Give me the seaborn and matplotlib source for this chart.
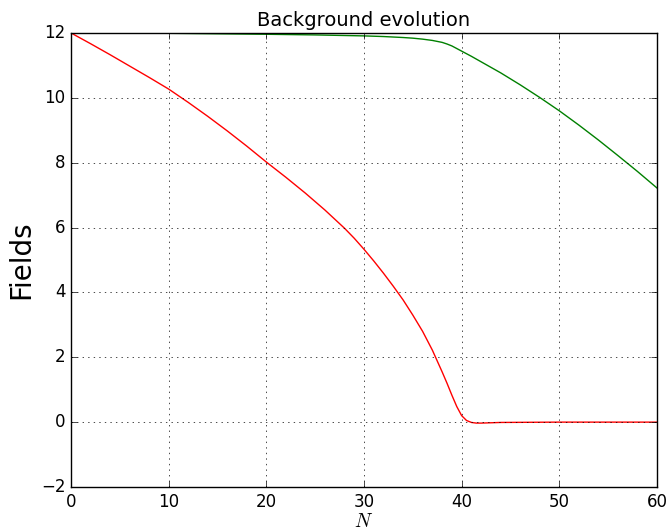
import numpy as np
import matplotlib
matplotlib.use("Agg")
import matplotlib.pyplot as plt
import pandas as pd
import seaborn as sns

plt.style.use('classic')

# values
n_red = [0, 2, 4, 6, 8, 10, 12, 14, 16, 18, 20, 22, 24, 26, 28, 29, 30, 31, 32, 33, 34, 35, 36, 37, 38, 38.5, 39, 39.5, 40, 40.5, 41, 41.5, 42, 43, 44, 50, 60]
phi_red = [12, 11.67, 11.33, 10.98, 10.63, 10.27, 9.86, 9.43, 8.98, 8.51, 8.02, 7.55, 7.06, 6.54, 5.98, 5.67, 5.33, 4.97, 4.59, 4.19, 3.77, 3.3, 2.8, 2.22, 1.55, 1.2, 0.83, 0.48, 0.2, 0.05, -0.01, -0.03, -0.03, -0.02, -0.01, 0.0, 0.0]

n_green = [0, 10, 20, 25, 30, 32, 34, 35, 36, 37, 37.5, 38, 38.5, 39, 39.5, 40, 41, 42, 44, 46, 48, 50, 52, 54, 56, 58, 60]
phi_green = [12, 11.99, 11.96, 11.94, 11.91, 11.89, 11.86, 11.84, 11.81, 11.77, 11.74, 11.71, 11.66, 11.6, 11.52, 11.44, 11.28, 11.11, 10.77, 10.4, 10.01, 9.6, 9.16, 8.7, 8.22, 7.73, 7.22]

df = pd.concat([
    pd.DataFrame({'N': n_red, 'value': phi_red, 'field': 'phi'}),
    pd.DataFrame({'N': n_green, 'value': phi_green, 'field': 'chi'}),
])

fig = plt.figure(figsize=(6.68, 5.31), dpi=100, facecolor='white')
ax = fig.add_axes([0.1063, 0.0829, 0.8772, 0.855])

sns.lineplot(data=df, x='N', y='value', hue='field', palette={'phi': 'r', 'chi': 'g'},
             sort=False, estimator=None, linewidth=1.0, legend=False, ax=ax)

ax.set_xlim(0, 60)
ax.set_ylim(-2, 12)
ax.grid(True, color='k', linestyle=':', linewidth=0.5)
ax.set_title("Background evolution", fontsize=14)
ax.set_xlabel("$N$", fontsize=14, labelpad=1)
ax.set_ylabel("Fields", fontsize=20, labelpad=4)

fig.savefig('out.png', dpi=100, facecolor='white')
